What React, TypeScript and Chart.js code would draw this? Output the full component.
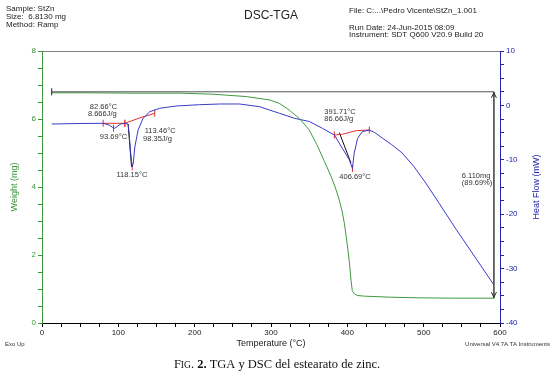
import React, { useEffect, useRef } from 'react';
import { Chart, registerables } from 'chart.js';

Chart.register(...registerables);

// ---- Data ----
const tgaTemp = [12.7, 60, 120, 180.4, 223.5, 267.6, 298, 311, 324, 337, 350, 360, 370, 378, 384, 389, 393, 396, 398.5, 400.5, 402.6, 404.8, 406.5, 409, 413, 422, 455, 494, 540, 592];
const tgaWeight = [6.77, 6.77, 6.76, 6.76, 6.73, 6.66, 6.56, 6.46, 6.26, 6.02, 5.68, 5.25, 4.75, 4.35, 4.0, 3.65, 3.3, 2.95, 2.55, 2.2, 1.8, 1.26, 0.95, 0.86, 0.81, 0.79, 0.76, 0.74, 0.73, 0.73];

const dscTemp = [12.7, 49.7, 80.1, 87.6, 92.8, 95.4, 99.3, 103.3, 108.5, 112.8, 114.4, 115.7, 118.15, 119.6, 121.6, 125.9, 132.4, 141.2, 154.2, 176, 206.5, 232.7, 258.8, 285, 311, 330.7, 350.3, 367.3, 383, 393.5, 402.6, 406.69, 409, 413.5, 419.6, 428.8, 436, 445.8, 458, 471.9, 487, 502.9, 520.3, 542.1, 592];
const dscHeat = [-3.42, -3.33, -3.29, -3.6, -4.06, -4.21, -3.79, -3.42, -3.29, -3.42, -5.44, -8.2, -11.3, -10.6, -7.65, -4.52, -2.37, -1.16, -0.53, -0.11, 0.13, 0.26, 0.26, -0.24, -1.45, -2.37, -2.96, -4.21, -5.44, -7.89, -10.0, -11.6, -8.75, -6.05, -4.83, -4.52, -5.0, -6.0, -7.2, -8.75, -11.2, -14.3, -18.0, -22.7, -33.0];

// analysis annotations (temperature / heat flow)
const base1Temp = [80.1, 108.5];
const base1Heat = [-3.29, -3.29];
const base2Temp = [108.5, 128, 147.7];
const base2Heat = [-3.29, -2.3, -1.45];
const tan2Temp = [112.8, 117.3];
const tan2Heat = [-3.42, -11.3];
const base3Temp = [383, 393.9, 411.4, 428.8];
const base3Heat = [-5.44, -5.3, -4.65, -4.52];
const tan3Temp = [389.5, 404.8];
const tan3Heat = [-5.0, -10.6];
const peakTemp = [93.69, 118.15, 406.69];
const peakHeat = [-4.21, -11.3, -11.6];

// weight-change annotation (temperature / weight)
const stepTemp = [12.7, 592, 592];
const stepWeight = [6.8, 6.8, 0.73];

// tick labels
const xTickLabels = [0, 100, 200, 300, 400, 500, 600];
const weightTickLabels = [0, 2, 4, 6, 8];
const heatTickLabels = [10, 0, -10, -20, -30, -40];

const annotationLabels = [
  { text: '82.66°C', t: 62.7, v: -0.35 },
  { text: '8.666J/g', t: 60.1, v: -1.58 },
  { text: '93.69°C', t: 75.8, v: -5.86 },
  { text: '113.46°C', t: 134.6, v: -4.65 },
  { text: '98.35J/g', t: 132.4, v: -6.12 },
  { text: '118.15°C', t: 97.6, v: -12.8 },
  { text: '391.71°C', t: 369.9, v: -1.27 },
  { text: '86.66J/g', t: 369.9, v: -2.5 },
  { text: '406.69°C', t: 389.5, v: -13.1 },
  { text: '6.110mg', t: 550, v: -13.0 },
  { text: '(89.69%)', t: 550, v: -14.3 },
];

const GREEN = '#3f9a3f';
const AXIS_GREEN = '#3c963c';
const BLUE = '#3a3ac8';
const AXIS_BLUE = '#2222aa';
const RED = '#e03030';
const SANS = '"Liberation Sans", Arial, sans-serif';
const SERIF = '"Liberation Serif", "Times New Roman", serif';

const pts = (xs: number[], ys: number[]) => xs.map((x, i) => ({ x, y: ys[i] }));

const overlayPlugin = {
  id: 'overlay',
  afterDraw(chart: any) {
    const { ctx, chartArea: a, scales } = chart;
    const xs = scales.x;
    const y1 = scales.y1;
    const ys = scales.y;
    ctx.save();
    // top frame line
    ctx.strokeStyle = '#808080';
    ctx.lineWidth = 1;
    ctx.beginPath();
    ctx.moveTo(a.left, Math.round(a.top) + 0.5);
    ctx.lineTo(a.right, Math.round(a.top) + 0.5);
    ctx.stroke();

    // arrowheads on weight step
    const ax = xs.getPixelForValue(stepTemp[1]);
    const at = ys.getPixelForValue(stepWeight[1]);
    const ab = ys.getPixelForValue(stepWeight[2]);
    ctx.strokeStyle = '#222';
    ctx.beginPath();
    ctx.moveTo(ax - 2.5, at + 6); ctx.lineTo(ax, at + 1); ctx.lineTo(ax + 2.5, at + 6);
    ctx.moveTo(ax - 2.5, ab - 6); ctx.lineTo(ax, ab - 1); ctx.lineTo(ax + 2.5, ab - 6);
    ctx.stroke();

    // header
    ctx.fillStyle = '#222';
    ctx.textBaseline = 'middle';
    ctx.textAlign = 'left';
    ctx.font = `8px ${SANS}`;
    ctx.fillText('Sample: StZn', 6, 9);
    ctx.fillText('Size:  6.8130 mg', 6, 17);
    ctx.fillText('Method: Ramp', 6, 25);
    ctx.fillText('File: C:...\\Pedro Vicente\\StZn_1.001', 349, 11);
    ctx.fillText('Run Date: 24-Jun-2015 08:09', 349, 28);
    ctx.fillText('Instrument: SDT Q600 V20.9 Build 20', 349, 35);
    ctx.textAlign = 'center';
    ctx.font = `12px ${SANS}`;
    ctx.fillText('DSC-TGA', 271, 16);

    // axis titles
    ctx.font = `9px ${SANS}`;
    ctx.fillStyle = '#222';
    ctx.fillText('Temperature (°C)', (a.left + a.right) / 2, 344);
    const cy = (a.top + a.bottom) / 2;
    ctx.save();
    ctx.translate(15, cy);
    ctx.rotate(-Math.PI / 2);
    ctx.fillStyle = AXIS_GREEN;
    ctx.fillText('Weight (mg)', 0, 0);
    ctx.restore();
    ctx.save();
    ctx.translate(537, cy);
    ctx.rotate(-Math.PI / 2);
    ctx.fillStyle = AXIS_BLUE;
    ctx.fillText('Heat Flow (mW)', 0, 0);
    ctx.restore();

    // footer
    ctx.font = `6px ${SANS}`;
    ctx.fillStyle = '#333';
    ctx.textAlign = 'left';
    ctx.fillText('Exo Up', 5, 344);
    ctx.textAlign = 'right';
    ctx.fillText('Universal V4.7A TA Instruments', 550, 344);

    // annotation labels
    ctx.font = `7.5px ${SANS}`;
    ctx.fillStyle = '#333';
    ctx.textAlign = 'left';
    annotationLabels.forEach((l) => {
      ctx.fillText(l.text, xs.getPixelForValue(l.t), y1.getPixelForValue(l.v));
    });

    // caption
    const segs = [
      { t: 'F', f: `12.5px ${SERIF}` },
      { t: 'IG', f: `9.5px ${SERIF}` },
      { t: '. ', f: `12.5px ${SERIF}` },
      { t: '2.', f: `bold 12.5px ${SERIF}` },
      { t: ' TGA y DSC del estearato de zinc.', f: `12.5px ${SERIF}` },
    ];
    let total = 0;
    segs.forEach((s) => { ctx.font = s.f; total += ctx.measureText(s.t).width; });
    let cx = 277 - total / 2;
    ctx.textAlign = 'left';
    ctx.textBaseline = 'alphabetic';
    ctx.fillStyle = '#111';
    segs.forEach((s) => { ctx.font = s.f; ctx.fillText(s.t, cx, 368); cx += ctx.measureText(s.t).width; });
    ctx.restore();
  },
};

export default function App() {
  const ref = useRef<HTMLCanvasElement | null>(null);
  useEffect(() => {
    document.body.style.margin = '0';
    const canvas = ref.current;
    if (!canvas) return;
    const lineDs = (data: any[], color: string, axis: string, extra: any = {}) => ({
      data, borderColor: color, backgroundColor: color, yAxisID: axis, borderWidth: 1,
      pointRadius: 0, fill: false, tension: 0, ...extra,
    });
    const endTicks = (n: number) => ({
      pointRadius: Array.from({ length: n }, (_, i) => (i === 0 || i === n - 1 ? 3.5 : 0)),
      pointStyle: 'line', pointRotation: 90, pointBorderWidth: 1,
    });
    const chart = new Chart(canvas, {
      type: 'line',
      data: {
        datasets: [
          lineDs(pts(stepTemp, stepWeight), '#555', 'y', {
            pointRadius: [3.5, 0, 0], pointStyle: 'line', pointRotation: 90, pointBorderColor: '#222',
          }),
          lineDs(pts(tgaTemp, tgaWeight), GREEN, 'y'),
          lineDs(pts(dscTemp, dscHeat), BLUE, 'y1'),
          lineDs(pts(base1Temp, base1Heat), RED, 'y1', endTicks(2)),
          lineDs(pts(base2Temp, base2Heat), RED, 'y1', endTicks(3)),
          lineDs(pts(tan2Temp, tan2Heat), '#111', 'y1'),
          lineDs(pts(base3Temp, base3Heat), RED, 'y1', endTicks(4)),
          lineDs(pts(tan3Temp, tan3Heat), '#111', 'y1'),
          lineDs(pts(peakTemp, peakHeat), RED, 'y1', {
            showLine: false, pointRadius: 3.5, pointStyle: 'line', pointRotation: 90,
          }),
        ],
      },
      options: {
        animation: false,
        responsive: false,
        devicePixelRatio: 1,
        layout: { padding: { top: 51, left: 0, right: 0, bottom: 0 } },
        plugins: { legend: { display: false }, tooltip: { enabled: false } },
        scales: {
          x: {
            type: 'linear', position: 'bottom', min: 0, max: 600,
            afterFit: (s: any) => { s.height = 53; },
            border: { color: '#000', width: 1 },
            grid: { drawOnChartArea: false, drawTicks: true, tickLength: 4, color: '#000' },
            ticks: {
              stepSize: 25, autoSkip: false, maxRotation: 0, padding: 1, color: '#222',
              font: { family: SANS, size: 8 },
              callback: (v: any) => (xTickLabels.includes(Number(v)) ? String(v) : ''),
            },
          },
          y: {
            type: 'linear', position: 'left', min: 0, max: 8,
            afterFit: (s: any) => { s.width = 42; },
            border: { color: AXIS_GREEN, width: 1 },
            grid: { drawOnChartArea: false, drawTicks: true, tickLength: 4, color: AXIS_GREEN },
            ticks: {
              stepSize: 0.5, autoSkip: false, padding: 2, color: AXIS_GREEN,
              font: { family: SANS, size: 8 },
              callback: (v: any) => (weightTickLabels.includes(Number(v)) ? String(v) : ''),
            },
          },
          y1: {
            type: 'linear', position: 'right', min: -40, max: 10,
            afterFit: (s: any) => { s.width = 54; },
            border: { color: AXIS_BLUE, width: 1 },
            grid: { drawOnChartArea: false, drawTicks: true, tickLength: 4, color: AXIS_BLUE },
            ticks: {
              stepSize: 2.5, autoSkip: false, padding: 2, color: AXIS_BLUE,
              font: { family: SANS, size: 8 },
              callback: (v: any) => (heatTickLabels.includes(Number(v)) ? String(v) : ''),
            },
          },
        },
      },
      plugins: [overlayPlugin],
    } as any);
    return () => chart.destroy();
  }, []);
  return (
    <div style={{ width: 554, height: 376, background: '#fff' }}>
      <canvas ref={ref} width={554} height={376} style={{ display: 'block' }} />
    </div>
  );
}
